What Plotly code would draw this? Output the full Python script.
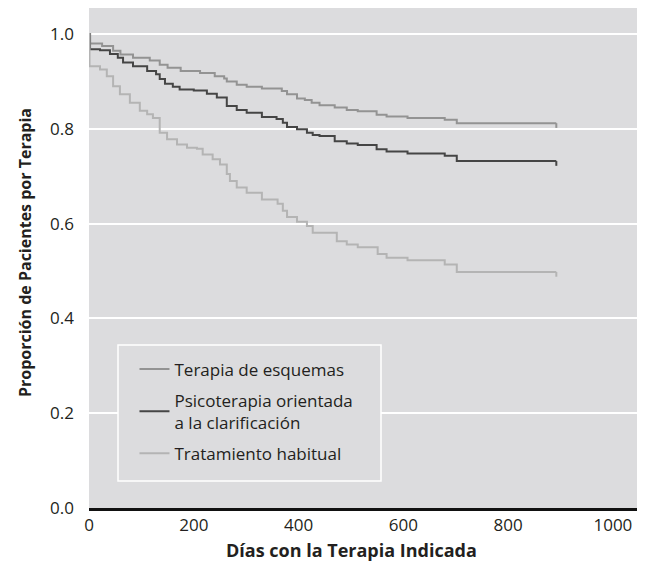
import plotly.graph_objects as go

# ---- data ----
series_names = ["Terapia de esquemas",
                "Psicoterapia orientada<br>a la clarificación",
                "Tratamiento habitual"]

schema_days = [0, 2, 25, 46, 60, 84, 116, 135, 150, 175, 212, 240, 258, 263, 282, 301,
               330, 368, 378, 397, 412, 425, 440, 469, 492, 513, 549, 568, 608, 679, 702, 892]
schema_surv = [1.0, 0.980, 0.975, 0.965, 0.957, 0.950, 0.944, 0.935, 0.929, 0.922, 0.918,
               0.911, 0.906, 0.900, 0.893, 0.889, 0.885, 0.880, 0.873, 0.864, 0.861, 0.855,
               0.850, 0.845, 0.840, 0.837, 0.830, 0.826, 0.823, 0.819, 0.812, 0.812]

psico_days = [0, 2, 21, 40, 55, 65, 84, 111, 128, 135, 145, 160, 173, 200, 225, 244, 263,
              282, 301, 330, 358, 370, 378, 397, 416, 427, 440, 469, 492, 513, 549, 568,
              608, 679, 702, 892]
psico_surv = [1.0, 0.968, 0.966, 0.958, 0.950, 0.940, 0.932, 0.922, 0.915, 0.905, 0.895,
              0.889, 0.883, 0.881, 0.874, 0.866, 0.848, 0.840, 0.834, 0.825, 0.821, 0.813,
              0.804, 0.799, 0.792, 0.787, 0.785, 0.774, 0.769, 0.766, 0.757, 0.752, 0.748,
              0.743, 0.732, 0.732]

habitual_days = [0, 1, 21, 34, 46, 59, 78, 97, 111, 122, 135, 149, 168, 187, 206, 217, 236,
                 250, 263, 269, 282, 301, 330, 360, 370, 378, 397, 416, 427, 473, 492, 513,
                 551, 568, 608, 679, 702, 892]
habitual_surv = [1.0, 0.932, 0.925, 0.911, 0.890, 0.873, 0.855, 0.838, 0.831, 0.823, 0.792,
                 0.778, 0.767, 0.760, 0.758, 0.746, 0.736, 0.725, 0.705, 0.690, 0.676, 0.665,
                 0.651, 0.642, 0.627, 0.614, 0.604, 0.595, 0.581, 0.563, 0.556, 0.550, 0.536,
                 0.528, 0.523, 0.514, 0.498, 0.498]

x_ticks = [0, 200, 400, 600, 800, 1000]
y_ticks = [0.0, 0.2, 0.4, 0.6, 0.8, 1.0]

x_title = "Días con la Terapia Indicada"
y_title = "Proporción de Pacientes por Terapia"

colors = ["#939393", "#454545", "#b4b4b4"]
FONT = "Open Sans"
TXT = "#231f20"
PANEL = "#dcdcde"

fig = go.Figure()
all_series = [(schema_days, schema_surv), (psico_days, psico_surv), (habitual_days, habitual_surv)]
for i, ((xs, ys), name, c) in enumerate(zip(all_series, series_names, colors)):
    fig.add_trace(go.Scatter(x=xs, y=ys, mode="lines", line=dict(color=c, width=2, shape="hv"),
                             name=name, legendgroup=f"g{i}"))
    # censor tick at end of follow-up (drawn downward from the last value)
    fig.add_trace(go.Scatter(x=[xs[-1]], y=[ys[-1]], mode="markers", showlegend=False,
                             marker=dict(size=0.1, color=c, opacity=0),
                             error_y=dict(type="data", array=[0], arrayminus=[0.01],
                                          color=c, thickness=2, width=0),
                             hoverinfo="skip"))

# page body has an 8px margin, so the figure is offset by 8px
L, R, T, B = 81, 1, 0, 59
fig.update_layout(
    width=630, height=559,
    margin=dict(l=L, r=R, t=T, b=B),
    paper_bgcolor="white", plot_bgcolor=PANEL,
    font=dict(family=FONT, size=15, color=TXT),
    showlegend=True,
    legend=dict(x=0.083, y=0.313, xanchor="left", yanchor="top",
                bgcolor="rgba(0,0,0,0)", borderwidth=0,
                font=dict(family=FONT, size=17, color=TXT),
                tracegroupgap=6),
    shapes=[dict(type="rect", xref="paper", yref="paper",
                 x0=(118 - 89) / 548, x1=(381 - 89) / 548,
                 y0=(508 - 481) / 500, y1=(508 - 345) / 500,
                 line=dict(color="white", width=1.5), fillcolor=PANEL, layer="above")],
    annotations=[
        dict(text=f"<b>{x_title}</b>", xref="paper", yref="paper", x=(351 - 89) / 548, y=0,
             yshift=-42, showarrow=False, font=dict(size=18), yanchor="middle"),
        dict(text=f"<b>{y_title}</b>", xref="paper", yref="paper", x=0, y=0.51,
             xshift=-64, showarrow=False, font=dict(size=16), textangle=-90, xanchor="center"),
    ],
    xaxis=dict(range=[0, 1046], tickvals=x_ticks, ticktext=[str(v) for v in x_ticks],
               showgrid=False, zeroline=False, showline=True, linecolor="#111", linewidth=3,
               ticks="", tickfont=dict(size=17), automargin=False),
    yaxis=dict(range=[0, 1.055], tickvals=y_ticks, ticktext=[f"{v:.1f}" for v in y_ticks],
               showgrid=True, gridcolor="white", gridwidth=1.5, zeroline=False,
               ticks="", tickfont=dict(size=17), ticklabelstandoff=14, automargin=False),
)

fig.write_html("out.html")
